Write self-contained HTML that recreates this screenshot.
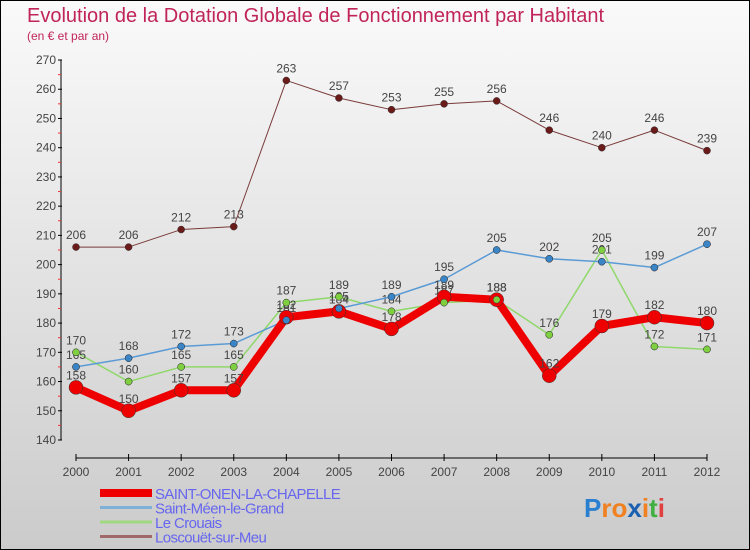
<!DOCTYPE html>
<html><head><meta charset="utf-8"><style>
body{margin:0}
#c{width:750px;height:550px;position:relative;box-sizing:border-box;border:1px solid #000;background:linear-gradient(#fafafa,#cbcbcb);font-family:"Liberation Sans",sans-serif;overflow:hidden}
.t{position:absolute;left:26px;top:4px;font-size:20px;color:#c0245a}
.s{position:absolute;left:26px;top:28px;font-size:12px;color:#c0245a}
</style></head><body>
<div id="c">
<div class="t">Evolution de la Dotation Globale de Fonctionnement par Habitant</div>
<div class="s">(en € et par an)</div>
<svg id="g" width="750" height="550" style="position:absolute;left:-1px;top:-1px"></svg>
</div>
<script>
const years=[2000,2001,2002,2003,2004,2005,2006,2007,2008,2009,2010,2011,2012];
const yTicks=[140,150,160,170,180,190,200,210,220,230,240,250,260,270];
const onen=[158,150,157,157,182,184,178,189,188,162,179,182,180];
const meen=[165,168,172,173,181,185,189,195,205,202,201,199,207];
const crouais=[170,160,165,165,187,189,184,187,188,176,205,172,171];
const loscouet=[206,206,212,213,263,257,253,255,256,246,240,246,239];
const names=["SAINT-ONEN-LA-CHAPELLE","Saint-Méen-le-Grand","Le Crouais","Loscouët-sur-Meu"];
const NS="http://www.w3.org/2000/svg";
const svg=document.getElementById('g');
const X=i=>76+i*(707-76)/12;
const Y=v=>440-(v-140)*(380/130);
function el(t,a,p){const e=document.createElementNS(NS,t);for(const k in a)e.setAttribute(k,a[k]);(p||svg).appendChild(e);return e;}
// axes
let e=el('line',{x1:61,y1:60,x2:61,y2:440,stroke:'#000','stroke-width':1});

e=el('line',{x1:76,y1:458,x2:707,y2:458,stroke:'#000','stroke-width':1});

yTicks.forEach((v,i)=>{
 el('line',{x1:58,y1:Y(v),x2:62,y2:Y(v),stroke:'#000'});
 if(i<yTicks.length-1) el('line',{x1:58,y1:Y(v+5),x2:61,y2:Y(v+5),stroke:'#e33'});
 const t=el('text',{x:56,y:Y(v)+4,'text-anchor':'end','font-size':12,fill:'#444'});t.textContent=v;
 
});
years.forEach((y,i)=>{
 el('line',{x1:X(i),y1:454,x2:X(i),y2:461,stroke:'#000'});
 const t=el('text',{x:X(i),y:476,'text-anchor':'middle','font-size':12,fill:'#444'});t.textContent=y;
 
});
function series(data,color,w,r,dot,name){
 const g=el('g',{});
 el('polyline',{points:data.map((v,i)=>X(i)+','+Y(v)).join(' '),fill:'none',stroke:color,'stroke-width':w,'stroke-linejoin':'round'},g);
 data.forEach((v,i)=>{
  const c=el('circle',{cx:X(i),cy:Y(v),r:r,fill:dot,stroke:'#333','stroke-width':0.5},g);
  
  const t=el('text',{x:X(i),y:Y(v)-8,'text-anchor':'middle','font-size':12,fill:'#444'},g);t.textContent=v;
 });
}
series(loscouet,'#7a3a3a',1,3.5,'#6b1a1a','series-loscouet');
series(crouais,'#8fd86a',1.5,3.5,'#7fd040','series-le-crouais');
series(meen,'#5b9bd5',1.5,3.5,'#3a85c8','series-saint-meen');
series(onen,'#ee0000',8,7,'#ee0000','series-saint-onen');
// re-draw meen/crouais dots on top (as in reference)
[[crouais,'#7fd040'],[meen,'#3a85c8']].forEach(([d,c])=>d.forEach((v,i)=>el('circle',{cx:X(i),cy:Y(v),r:3.5,fill:c,stroke:'#333','stroke-width':0.5})));
// legend
const lc=['#ee0000','#7fb0d8','#a0d880','#a06868'],lw=[8,3,3,3];
names.forEach((n,i)=>{
 const y=493+i*14.5;
 const l=el('line',{x1:100,y1:y,x2:152,y2:y,stroke:lc[i],'stroke-width':lw[i]});
 
 const t=el('text',{x:155,y:y+6,'font-size':15,fill:'#6666ee','letter-spacing':-0.6});t.textContent=n;
 
});
const p=el('text',{x:584,y:517,'font-size':26,'font-weight':'bold'});

[['P','#2a7fd0'],['ro','#f08020'],['x','#1a5fb0'],['i','#f08020'],['t','#40b040'],['i','#e04040']].forEach(([s,c])=>{const ts=el('tspan',{fill:c},p);ts.textContent=s;});
</script>
</body></html>
